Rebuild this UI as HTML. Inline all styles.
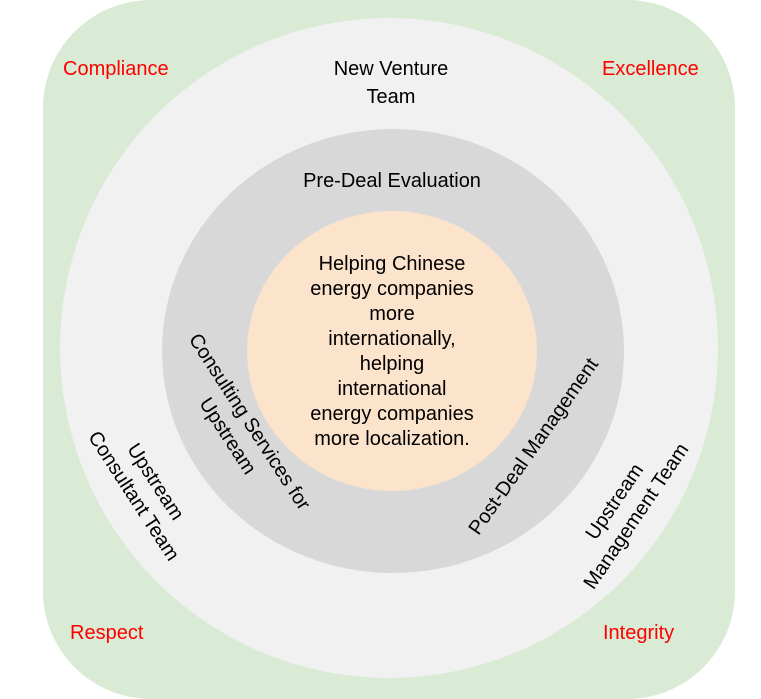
<!DOCTYPE html>
<html><head><meta charset="utf-8"><style>
html,body{margin:0;padding:0;background:#fff;}
svg{display:block;}
text{font-family:"Liberation Sans",Arial,sans-serif;font-size:20px;}
</style></head><body>
<svg width="761" height="699" viewBox="0 0 761 699" xmlns="http://www.w3.org/2000/svg">
<rect x="43" y="0" width="692" height="699" rx="108" ry="108" fill="#d9ead5"/>
<ellipse cx="389" cy="348" rx="329" ry="330" fill="#f1f1f1"/>
<ellipse cx="393" cy="351" rx="231" ry="222" fill="#d8d8d8"/>
<ellipse cx="392" cy="351" rx="145" ry="140" fill="#fce3cc"/>
<g fill="#ff0000" style="font-size:21px">
<text x="63" y="75">Compliance</text>
<text x="602" y="75">Excellence</text>
<text x="70" y="639">Respect</text>
<text x="603" y="639">Integrity</text>
</g>
<g fill="#000" text-anchor="middle">
<text x="391" y="75">New Venture</text>
<text x="391" y="103">Team</text>
<text x="392" y="187">Pre-Deal Evaluation</text>
<g style="font-size:19.6px">
<text x="392" y="270">Helping Chinese</text>
<text x="392" y="295">energy companies</text>
<text x="392" y="320">more</text>
<text x="392" y="345">internationally,</text>
<text x="392" y="370">helping</text>
<text x="392" y="395">international</text>
<text x="392" y="420">energy companies</text>
<text x="392" y="445">more localization.</text>
</g>
<g transform="translate(240,428) rotate(57)">
<text x="0" y="-5">Consulting Services for</text>
<text x="0" y="21">Upstream</text>
</g>
<g transform="translate(146,488) rotate(57)">
<text x="0" y="-5">Upstream</text>
<text x="0" y="21">Consultant Team</text>
</g>
<g transform="translate(533,446) rotate(-55)">
<text x="0" y="7">Post-Deal Management</text>
</g>
<g transform="translate(624,508) rotate(-56)">
<text x="0" y="-5">Upstream</text>
<text x="0" y="21">Management Team</text>
</g>
</g>
</svg>
</body></html>
